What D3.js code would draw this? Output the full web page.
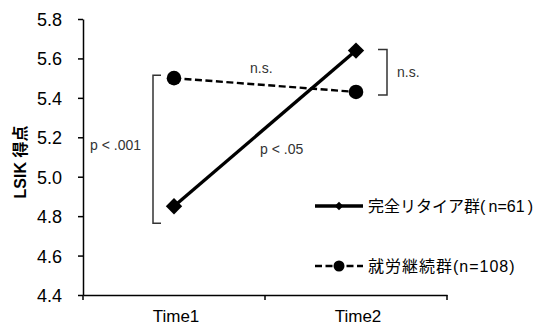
<!DOCTYPE html>
<html>
<head>
<meta charset="utf-8">
<style>
	body { margin: 0; background: #fff; }
	svg text { font-family: "Liberation Sans", Arial, "Noto Sans CJK JP", sans-serif; }
	.axis path, .axis line { stroke: #000; stroke-width: 1.5; }
	.axis text { font-size: 17px; fill: #000; }
	.note { font-size: 14px; fill: #333; }
	.bracket { fill: none; stroke: #333; stroke-width: 1.5; }
	.legend text { font-size: 16px; fill: #000; }
</style>
</head>
<body>
<div id="chart"></div>

<script src="https://d3js.org/d3.v7.min.js"></script>
<script>

	// data
	var times = ["Time1", "Time2"];
	var retired = [4.85, 5.64];     // 完全リタイア群
	var working = [5.50, 5.43];     // 就労継続群
	var yTicks = [4.4, 4.6, 4.8, 5.0, 5.2, 5.4, 5.6, 5.8];
	var seriesNames = ["完全リタイア群(\u2009n=61\u2009)", "就労継続群(n=108)"];

	var w = 539, h = 325;

	var svg = d3.select("#chart")
				.append("svg")
				.attr("width", w)
				.attr("height", h);

	// scales
	var xBand = d3.scaleBand().domain(times).range([83, 447]);
	var x = function(d) { return xBand(d) + xBand.bandwidth() / 2; };
	var y = d3.scaleLinear().domain([4.4, 5.8]).range([295, 19]);

	// y axis
	var yAxis = d3.axisLeft(y).tickValues(yTicks).tickSize(5).tickSizeOuter(0)
				.tickFormat(d3.format(".1f"));
	var gy = svg.append("g")
		.attr("class", "axis")
		.attr("transform", "translate(83,0)")
		.call(yAxis);
	gy.selectAll("text").attr("x", -21).attr("dy", "0.36em").style("font-size", "18px");

	// x axis (labels centred, tick marks on band edges)
	var xAxis = d3.axisBottom(xBand).tickSize(0).tickSizeOuter(0).tickPadding(15);
	var gx = svg.append("g")
		.attr("class", "axis")
		.attr("transform", "translate(0,295)")
		.call(xAxis);
	gx.selectAll(".tick text").attr("dx", 2);
	gx.selectAll(".edge")
		.data(times.map(function(t) { return xBand(t); }).concat([xBand.range()[1]]))
		.enter()
		.append("line")
		.attr("x1", function(d) { return d; })
		.attr("x2", function(d) { return d; })
		.attr("y1", 0).attr("y2", 5);

	// y axis title
	svg.append("text")
		.attr("transform", "translate(26,162) rotate(-90)")
		.attr("text-anchor", "middle")
		.style("font-size", "16px")
		.style("font-weight", "bold")
		.text("LSIK 得点");

	// lines
	var line = d3.line()
		.x(function(d, i) { return x(times[i]); })
		.y(function(d) { return y(d); });

	svg.append("path")
		.datum(working)
		.attr("d", line)
		.attr("fill", "none")
		.attr("stroke", "#000")
		.attr("stroke-width", 2.4)
		.attr("stroke-dasharray", "7,3.5");

	svg.append("path")
		.datum(retired)
		.attr("d", line)
		.attr("fill", "none")
		.attr("stroke", "#000")
		.attr("stroke-width", 3.4);

	// markers
	var diamond = d3.symbol().type(d3.symbolDiamond2).size(170);
	svg.selectAll(".dia")
		.data(retired)
		.enter()
		.append("path")
		.attr("d", diamond)
		.attr("transform", function(d, i) { return "translate(" + x(times[i]) + "," + y(d) + ")"; })
		.attr("fill", "#000");

	svg.selectAll(".dot")
		.data(working)
		.enter()
		.append("circle")
		.attr("cx", function(d, i) { return x(times[i]); })
		.attr("cy", function(d) { return y(d); })
		.attr("r", 7.3)
		.attr("fill", "#000");

	// significance brackets
	var bx1 = 153;
	svg.append("path")
		.attr("class", "bracket")
		.attr("d", "M" + (bx1 + 8) + "," + (y(working[0]) - 3) + "H" + bx1 +
			"V" + (y(retired[0]) + 17) + "H" + (bx1 + 8));
	svg.append("text").attr("class", "note")
		.attr("x", 90).attr("y", 150).text("p < .001");

	var bx2 = 387;
	svg.append("path")
		.attr("class", "bracket")
		.attr("d", "M" + (bx2 - 9) + "," + (y(retired[1]) - 1) + "H" + bx2 +
			"V" + (y(working[1]) + 3) + "H" + (bx2 - 9));
	svg.append("text").attr("class", "note")
		.attr("x", 397).attr("y", 77).text("n.s.");

	svg.append("text").attr("class", "note")
		.attr("x", 250).attr("y", 73).text("n.s.");
	svg.append("text").attr("class", "note")
		.attr("x", 260).attr("y", 154).text("p < .05");

	// legend
	var lg = svg.append("g").attr("class", "legend");
	var ly = [206, 266];

	lg.append("line")
		.attr("x1", 315).attr("x2", 363)
		.attr("y1", ly[0]).attr("y2", ly[0])
		.attr("stroke", "#000").attr("stroke-width", 3.4);
	lg.append("path")
		.attr("d", d3.symbol().type(d3.symbolDiamond2).size(45))
		.attr("transform", "translate(339," + ly[0] + ")");

	lg.append("line")
		.attr("x1", 315).attr("x2", 363)
		.attr("y1", ly[1]).attr("y2", ly[1])
		.attr("stroke", "#000").attr("stroke-width", 2.4)
		.attr("stroke-dasharray", "7,3.5");
	lg.append("circle")
		.attr("cx", 339).attr("cy", ly[1]).attr("r", 5.5);

	lg.selectAll("text")
		.data(seriesNames)
		.enter()
		.append("text")
		.attr("x", 368)
		.attr("y", function(d, i) { return ly[i]; })
		.attr("dy", "0.35em")
		.style("letter-spacing", function(d, i) { return i === 1 ? "1px" : null; })
		.text(function(d) { return d; });

</script>
</body>
</html>
